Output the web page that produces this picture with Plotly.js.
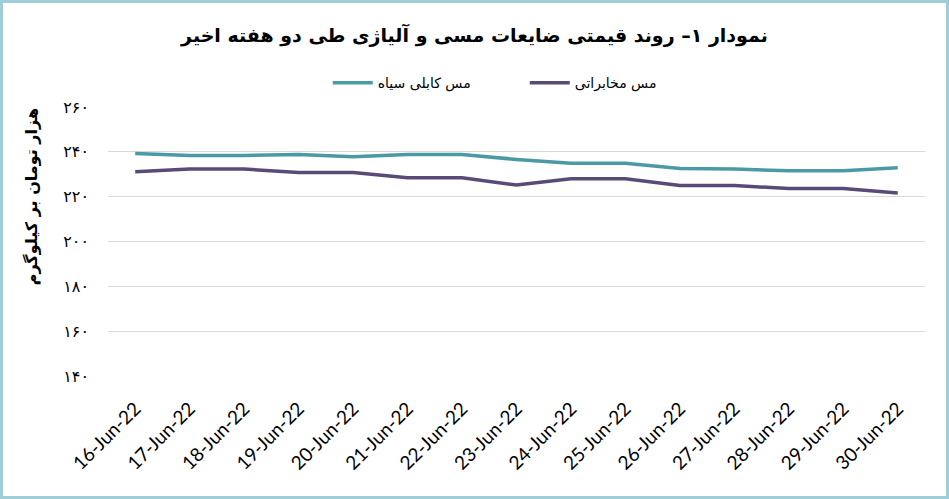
<!DOCTYPE html>
<html>
<head>
<meta charset="utf-8">
<script src="https://cdn.plot.ly/plotly-3.0.1.min.js"></script>
<style>
  body { margin: 0; background: #fff; }
  #frame { width: 949px; height: 499px; box-sizing: border-box; border: 3px solid #9fcdd8; }
  #chart { width: 943px; height: 493px; }
</style>
</head>
<body>
<div id="frame"><div id="chart"></div></div>
<script>
// -----------------------
// Datos
// -----------------------
const dates = ["16-Jun-22", "17-Jun-22", "18-Jun-22", "19-Jun-22", "20-Jun-22", "21-Jun-22", "22-Jun-22",
  "23-Jun-22", "24-Jun-22", "25-Jun-22", "26-Jun-22", "27-Jun-22", "28-Jun-22", "29-Jun-22", "30-Jun-22"];

const mesKabli = [239.3, 238.4, 238.4, 238.8, 237.8, 238.8, 238.8, 236.6, 234.9, 234.9, 232.6, 232.3, 231.6, 231.6, 232.9];
const mesMokhaberati = [231.1, 232.3, 232.3, 230.8, 230.8, 228.4, 228.4, 225.2, 228.0, 228.0, 225.0, 225.0, 223.6, 223.6, 221.6];

const yTicks = [140, 160, 180, 200, 220, 240, 260];

const seriesNames = ["مس کابلی سیاه", "مس مخابراتی"];
const chartTitle = "نمودار ۱– روند قیمتی ضایعات مسی و آلیاژی طی دو هفته اخیر";
const yTitle = "هزار تومان بر کیلوگرم";

// -----------------------
// Helpers
// -----------------------
const faDigits = (n) => String(n).replace(/\d/g, d => "۰۱۲۳۴۵۶۷۸۹"[d]);

// -----------------------
// Grafico
// -----------------------
const traces = [
  {
    x: dates, y: mesKabli, type: "scatter", mode: "lines",
    name: seriesNames[0],
    line: { color: "#4a9aa6", width: 3.5 }
  },
  {
    x: dates, y: mesMokhaberati, type: "scatter", mode: "lines",
    name: seriesNames[1],
    line: { color: "#5a4a78", width: 3.5 }
  }
];

const layout = {
  width: 943,
  height: 493,
  margin: { l: 105, r: 21, t: 104, b: 120 },
  paper_bgcolor: "#ffffff",
  plot_bgcolor: "#ffffff",
  font: { family: "DejaVu Sans", color: "#000" },
  title: {
    text: "<b>" + chartTitle + "</b>",
    font: { family: "DejaVu Sans", size: 19, color: "#000" },
    x: 0.5, xanchor: "center",
    y: 0.935, yanchor: "middle"
  },
  showlegend: true,
  legend: {
    orientation: "h",
    x: 0.269, xanchor: "left",
    y: 1.089, yanchor: "middle",
    font: { family: "DejaVu Sans", size: 14, color: "#000" },
    entrywidth: 142,
    itemwidth: 40,
    tracegroupgap: 0
  },
  xaxis: {
    type: "category",
    range: [-0.5, 14.5],
    showgrid: false,
    zeroline: false,
    showline: false,
    ticks: "",
    tickangle: -45,
    ticklabelstandoff: 17,
    tickfont: { family: "Lato", size: 19, color: "#000" }
  },
  yaxis: {
    range: [140, 260],
    tickvals: yTicks,
    ticktext: yTicks.map(faDigits),
    showgrid: true,
    gridcolor: "#d9d9d9",
    gridwidth: 1,
    zeroline: false,
    showline: false,
    ticks: "",
    ticklabelstandoff: 18,
    tickfont: { family: "DejaVu Sans", size: 16, color: "#000" }
  },
  annotations: [
    {
      text: "<b>" + yTitle + "</b>",
      xref: "paper", yref: "paper",
      x: -0.094, y: 0.665,
      xanchor: "center", yanchor: "middle",
      textangle: -90,
      showarrow: false,
      font: { family: "DejaVu Sans", size: 16, color: "#000" }
    }
  ]
};

Plotly.newPlot("chart", traces, layout, { displayModeBar: false, staticPlot: true });
</script>
</body>
</html>
